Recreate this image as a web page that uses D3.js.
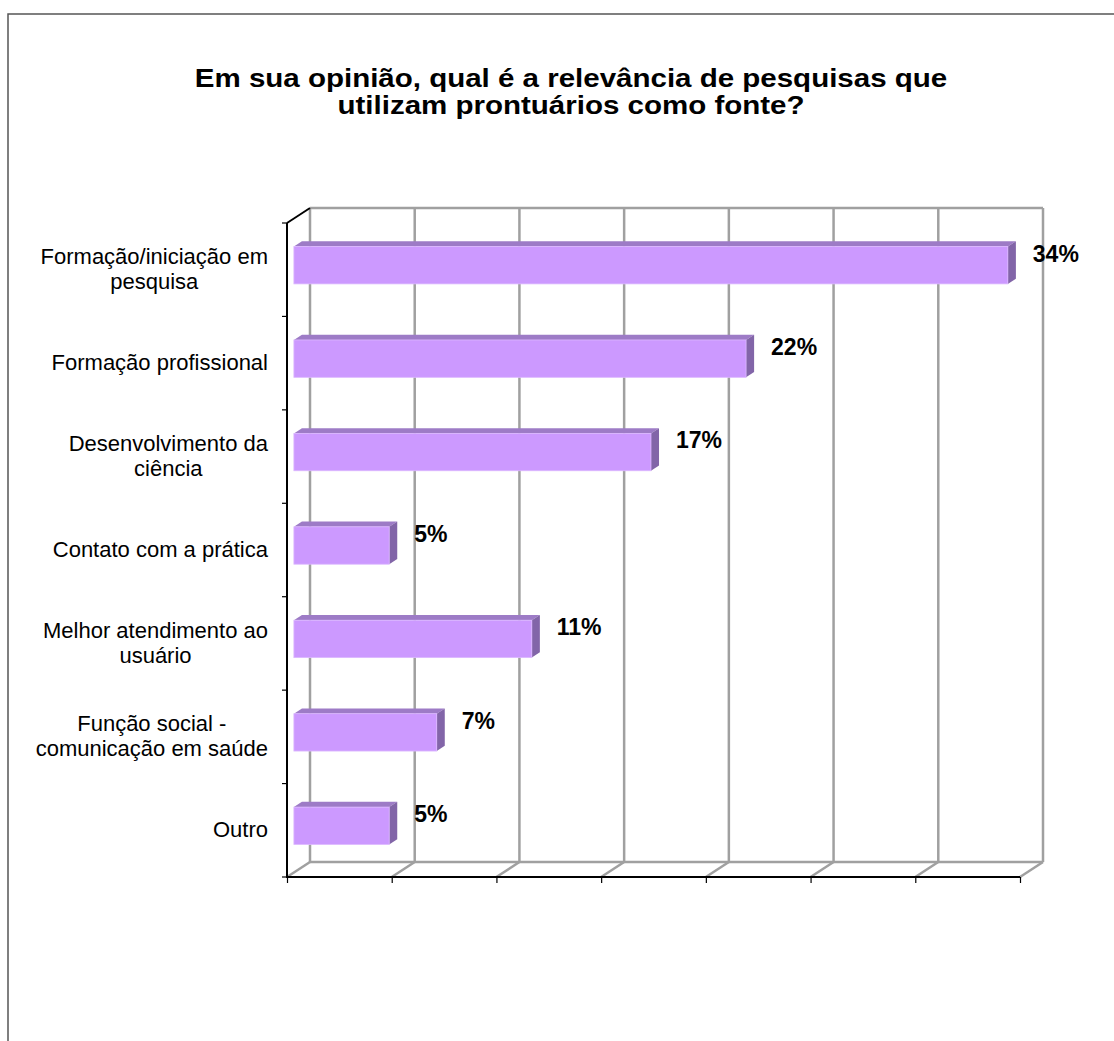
<!DOCTYPE html>
<html>
<head>
<meta charset="utf-8">
<script src="https://cdn.jsdelivr.net/npm/d3@7"></script>
<style>
  html, body { margin: 0; padding: 0; background: #fff; }
  svg { display: block; }
  text { font-family: Arial, "Liberation Sans", sans-serif; }
</style>
</head>
<body>
<svg id="chart" width="1114" height="1041"></svg>
<script>
// ---- data ----
const titleLines = ["Em sua opinião, qual é a relevância de pesquisas que", "utilizam prontuários como fonte?"];
const categories = [
  "Formação/iniciação em pesquisa",
  "Formação profissional",
  "Desenvolvimento da ciência",
  "Contato com a prática",
  "Melhor atendimento ao usuário",
  "Função social - comunicação em saúde",
  "Outro"
];
const categoryLines = [
  ["Formação/iniciação em", "pesquisa"],
  ["Formação profissional"],
  ["Desenvolvimento da", "ciência"],
  ["Contato com a prática"],
  ["Melhor atendimento ao", "usuário"],
  ["Função social -", "comunicação em saúde"],
  ["Outro"]
];
const values = [34.09, 21.59, 17.05, 4.55, 11.36, 6.82, 4.55];
const valueLabels = ["34%", "22%", "17%", "5%", "11%", "7%", "5%"];
const axisTicks = [0, 5, 10, 15, 20, 25, 30, 35];

// ---- layout ----
const svg = d3.select("#chart");
const front = { x0: 287, x1: 1020, y0: 223, y1: 877 };
const depth = { x: 23, y: -15 };
const barFront = 0.3, barBack = 0.65;

const x = d3.scaleLinear().domain([0, 35]).range([front.x0, front.x1]);
const y = d3.scaleBand().domain(categories).range([front.y0, front.y1]);

// outer frame
svg.append("rect").attr("x", 8).attr("y", 14).attr("width", 1200).attr("height", 1100)
  .attr("fill", "none").attr("stroke", "#555").attr("stroke-width", 1.5);

// title (slightly widened like the reference rendering)
const titleCx = 571;
svg.append("g").attr("transform", `translate(${titleCx},0) scale(1.135,1)`)
  .append("text").attr("x", 0).attr("y", 87).attr("text-anchor", "middle")
  .attr("font-size", 26).attr("font-weight", "bold").attr("fill", "#000")
  .selectAll("tspan").data(titleLines).join("tspan")
  .attr("x", 0).attr("dy", (d, i) => i === 0 ? 0 : 27).text(d => d);

const grid = svg.append("g").attr("stroke", "#a0a0a0").attr("stroke-width", 2.5).attr("fill", "none");
// back wall verticals
grid.selectAll("line.v").data(axisTicks).join("line").attr("class", "v")
  .attr("x1", d => x(d) + depth.x).attr("x2", d => x(d) + depth.x)
  .attr("y1", front.y0 + depth.y).attr("y2", front.y1 + depth.y);
// floor diagonals
grid.selectAll("line.f").data(axisTicks).join("line").attr("class", "f")
  .attr("x1", d => x(d)).attr("x2", d => x(d) + depth.x)
  .attr("y1", front.y1).attr("y2", front.y1 + depth.y);
// back top & bottom
grid.append("line").attr("x1", x(0) + depth.x).attr("x2", x(35) + depth.x)
  .attr("y1", front.y0 + depth.y).attr("y2", front.y0 + depth.y);
grid.append("line").attr("x1", x(0) + depth.x).attr("x2", x(35) + depth.x)
  .attr("y1", front.y1 + depth.y).attr("y2", front.y1 + depth.y);

// axes
const ax = svg.append("g").attr("stroke", "#000").attr("stroke-width", 2);
ax.append("line").attr("x1", front.x0).attr("x2", front.x0).attr("y1", front.y0).attr("y2", front.y1 + 1);
ax.append("line").attr("x1", front.x0).attr("x2", front.x0 + depth.x).attr("y1", front.y0).attr("y2", front.y0 + depth.y);
const bounds = categories.map(c => y(c)).concat([front.y1]);
ax.selectAll("line.lt").data(bounds).join("line").attr("class", "lt")
  .attr("x1", front.x0 - 5).attr("x2", front.x0).attr("y1", d => d).attr("y2", d => d).attr("stroke-width", 1.2);

const bottomAxis = d3.axisBottom(x).tickValues(axisTicks).tickSize(6).tickFormat("");
const bAx = svg.append("g").attr("transform", `translate(0,${front.y1})`).call(bottomAxis);
bAx.select(".domain").attr("stroke", "#000").attr("stroke-width", 2).attr("d", `M${front.x0},0H${front.x1}`);
bAx.selectAll(".tick line").attr("stroke", "#000").attr("stroke-width", 1.2);

// bars
const fdx = depth.x * barFront, fdy = depth.y * barFront;
const bdx = depth.x * (barBack - barFront), bdy = depth.y * (barBack - barFront);
const barH = y.bandwidth() / 2.5;
const bars = svg.append("g");
categories.forEach((c, i) => {
  const cy = y(c) + y.bandwidth() / 2;
  const x0 = x(0) + fdx, x1 = x(values[i]) + fdx;
  const yt = cy - barH / 2 + fdy, yb = cy + barH / 2 + fdy;
  bars.append("polygon")
    .attr("points", [[x0, yt], [x1, yt], [x1 + bdx, yt + bdy], [x0 + bdx, yt + bdy]].join(" "))
    .attr("fill", "#9d7bc6");
  bars.append("polygon")
    .attr("points", [[x1, yt], [x1 + bdx, yt + bdy], [x1 + bdx, yb + bdy], [x1, yb]].join(" "))
    .attr("fill", "#8265a8");
  bars.append("rect").attr("x", x0).attr("y", yt).attr("width", x1 - x0).attr("height", yb - yt)
    .attr("fill", "#cc99ff").attr("stroke", "#dcb8ff").attr("stroke-width", 0.8);
  svg.append("text").attr("x", x1 + 25).attr("y", yt + 15)
    .attr("font-size", 23).attr("font-weight", "bold").attr("fill", "#000")
    .text(valueLabels[i]);
});

// category labels
const labG = svg.append("g");
categories.forEach((c, i) => {
  const cy = y(c) + y.bandwidth() / 2;
  const lines = categoryLines[i];
  const lh = 25;
  const t = labG.append("text").attr("font-size", 22).attr("fill", "#000").attr("text-anchor", "middle");
  const spans = lines.map((l, j) => t.append("tspan").attr("y", cy - (lines.length - 1) * lh / 2 + j * lh + 7).text(l));
  const w = d3.max(spans, s => s.node().getComputedTextLength());
  spans.forEach(s => s.attr("x", 268 - w / 2));
});
</script>
</body>
</html>
